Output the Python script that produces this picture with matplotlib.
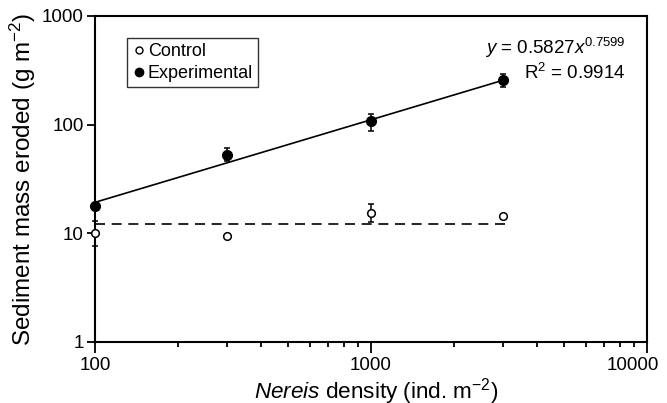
import matplotlib
matplotlib.use("Agg")
import matplotlib.pyplot as plt
from matplotlib.lines import Line2D
from matplotlib.transforms import ScaledTranslation
from matplotlib.ticker import FixedLocator, NullLocator, FuncFormatter, LogLocator
import numpy as np

plt.rcParams["font.family"] = ["Liberation Sans", "DejaVu Sans"]
plt.rcParams["mathtext.fontset"] = "custom"
plt.rcParams["mathtext.rm"] = "Liberation Sans"
plt.rcParams["mathtext.it"] = "Liberation Sans:italic"

# data
density = [100, 300, 1000, 3000]
control = [10.0, 9.4, 15.5, 14.5]
control_lo = [7.7, 9.4, 12.6, 14.5]
control_hi = [13.0, 9.4, 18.8, 14.5]
experimental = [17.8, 52.7, 107, 257]
exp_lo = [16.5, 46, 87, 220]
exp_hi = [19.2, 61, 126, 292]
control_mean = 12.3  # dashed horizontal line
fit_a, fit_b = 0.5827, 0.7599

fig = plt.figure(figsize=(6.67, 4.03), dpi=100)
ax = fig.add_axes([95 / 667, 61 / 403, 552 / 667, 326 / 403])
ax.set_xscale("log")
ax.set_yscale("log")
ax.set_xlim(100, 10000)
ax.set_ylim(1, 1000)

# fit line for experimental
xf = np.array([100, 3000])
ax.plot(xf, fit_a * xf ** fit_b, color="black", lw=1.2, zorder=2)
# dashed line for control
ax.plot([100, 3100], [control_mean, control_mean], color="black", lw=1.2,
        dashes=(6, 4), dash_capstyle="butt", zorder=2)

c = np.array(control)
e = np.array(experimental)
ax.errorbar(density, control,
            yerr=[c - np.array(control_lo), np.array(control_hi) - c],
            fmt="o", mfc="white", mec="black", mew=1.1, ms=5.5, ecolor="black",
            elinewidth=1.1, capsize=2.3, capthick=1.1,
            zorder=3, clip_on=False)
ax.errorbar(density, experimental,
            yerr=[e - np.array(exp_lo), np.array(exp_hi) - e],
            fmt="o", mfc="black", mec="black", ms=7, ecolor="black",
            elinewidth=1.1, capsize=2.3, capthick=1.1,
            zorder=3, clip_on=False)

for s in ax.spines.values():
    s.set_linewidth(1.5)

ax.yaxis.set_major_locator(FixedLocator([1, 10, 100, 1000]))
ax.yaxis.set_minor_locator(NullLocator())
ax.xaxis.set_major_locator(FixedLocator([100, 1000, 10000]))
ax.xaxis.set_minor_locator(LogLocator(base=10, subs=np.arange(2, 10)))
fmt = FuncFormatter(lambda v, p: "%d" % v)
ax.xaxis.set_major_formatter(fmt)
ax.yaxis.set_major_formatter(fmt)
ax.xaxis.set_minor_formatter(FuncFormatter(lambda v, p: ""))
ax.tick_params(axis="both", which="both", width=1.3, direction="out",
               labelsize=13.5)
ax.tick_params(axis="x", which="major", length=8, pad=2.5)
ax.tick_params(axis="x", which="minor", length=3.7)
ax.tick_params(axis="y", which="major", length=6, pad=2)

# last x tick label sits a bit to the left, as in the original
lbl = ax.get_xticklabels()[-1]
lbl.set_transform(lbl.get_transform() + ScaledTranslation(-0.14, 0, fig.dpi_scale_trans))

ax.set_xlabel(r"$\it{Nereis}$ density (ind. m$^{-2}$)", fontsize=16.2)
ax.xaxis.set_label_coords(0.509, -0.104)
ax.xaxis.label.set_va("top")
ax.set_ylabel(r"Sediment mass eroded (g m$^{-2}$)", fontsize=17.5)
ax.yaxis.set_label_coords(-0.104, 0.5)

handles = [
    Line2D([], [], ls="none", marker="o", mfc="white", mec="black", mew=1.0, ms=5),
    Line2D([], [], ls="none", marker="o", mfc="black", mec="black", ms=6),
]
leg = ax.legend(handles, ["Control", "Experimental"], loc="upper left",
                bbox_to_anchor=(0.058, 0.9325), fontsize=13,
                frameon=True, fancybox=False, edgecolor="black",
                handletextpad=0.15, borderpad=0.3, labelspacing=0.25,
                handlelength=0.7, borderaxespad=0)
leg.get_frame().set_linewidth(1.0)

ax.text(0.961, 0.883, r"$y$ = 0.5827$x^{0.7599}$", transform=ax.transAxes,
        ha="right", va="baseline", fontsize=13.5)
ax.text(0.961, 0.806, r"R$^2$ = 0.9914", transform=ax.transAxes,
        ha="right", va="baseline", fontsize=13.5)

fig.savefig("out.png", dpi=100)
